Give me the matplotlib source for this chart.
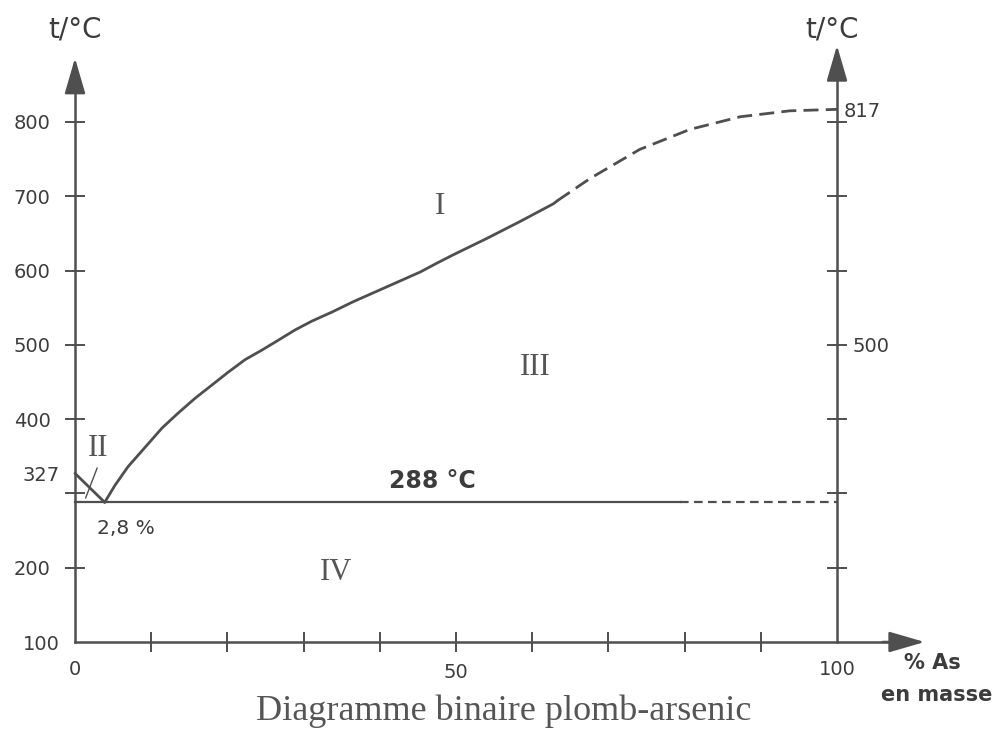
import matplotlib.pyplot as plt

LC = '#4f4f4f'   # couleur des traits
TC = '#3c3c3c'   # couleur du texte

# liquidus côté plomb : Pb pur (327 °C) -> eutectique
liq_pb_x = [0, 3.9]
liq_pb_t = [327, 288]
# liquidus côté arsenic, partie en trait plein
liq_as_x = [3.9, 5.25, 6.96, 9.19, 11.42, 13.52, 15.75, 17.98, 20.08, 22.31, 24.54,
            26.64, 28.87, 31.1, 33.7, 36.5, 40.9, 45.3, 47.5, 49.6, 54.0, 58.4, 62.8, 63.3]
liq_as_t = [288, 311, 336, 362, 388, 408, 428, 446, 463, 480, 493,
            506, 520, 532, 544, 558, 578, 598, 610, 621, 643, 666, 690, 694]
# partie extrapolée (tirets) jusqu'à As pur (817 °C)
liq_ext_x = [63.3, 67.6, 74.1, 80.7, 87.3, 93.8, 100]
liq_ext_t = [694, 724, 763, 790, 807, 815, 817]
# palier eutectique
eut_t = 288
eut_solid_x = [0, 79.4]
eut_dash_x = [79.4, 100]
# repère de la zone II
ptr_x = [2.9, 1.4]
ptr_t = [334, 294]

# graduations
x_ticks = [10, 20, 30, 40, 50, 60, 70, 80, 90]
x_labels = ['', '', '', '', '50', '', '', '', '']
x_extra = [0, 100]
x_extra_labels = ['0', '100']
y_ticks = [200, 300, 400, 500, 600, 700, 800]
y_labels = ['200', '', '400', '500', '600', '700', '800']
y_extra = [100, 327]
y_extra_labels = ['100', '327']
yr_labels = ['', '', '', '500', '', '', '']
yr_extra = [817]
yr_extra_labels = ['817']

# domaines
regions = ['I', 'II', 'III', 'IV']
region_x = [47.9, 3.0, 60.4, 34.3]
region_t = [686, 360, 470, 194]

# échelle : 7.62 px par %, 0.7429 px par °C (image 1005 x 735)
X0, X1 = -75 / 7.62, (1005 - 75) / 7.62
Y0, Y1 = 100 - 93 / 0.7429, 100 + 642 / 0.7429

fig = plt.figure(figsize=(10.05, 7.35), dpi=100)
ax = fig.add_axes([0, 0, 1, 1])
ax.set_xlim(X0, X1)
ax.set_ylim(Y0, Y1)

for s in ['top', 'right']:
    ax.spines[s].set_visible(False)
ax.spines['left'].set_position(('data', 0))
ax.spines['left'].set_bounds(100, 860)
ax.spines['bottom'].set_position(('data', 100))
ax.spines['bottom'].set_bounds(0, 108)
for s in ['left', 'bottom']:
    ax.spines[s].set_linewidth(1.8)
    ax.spines[s].set_color(LC)

ax.set_xticks(x_ticks, x_labels)
ax.set_xticks(x_extra, x_extra_labels, minor=True)
ax.set_yticks(y_ticks, y_labels)
ax.set_yticks(y_extra, y_extra_labels, minor=True)
ax.tick_params(which='major', direction='inout', length=14, width=1.4, color=LC,
               labelsize=14, labelcolor=TC)
ax.tick_params(which='minor', length=0, labelsize=14, labelcolor=TC)
ax.tick_params(axis='y', which='major', pad=10.5)
ax.tick_params(axis='y', which='minor', pad=11)
ax.tick_params(axis='x', which='major', pad=8)
ax.tick_params(axis='x', which='minor', pad=13)

# axe de droite (As pur)
sec = ax.secondary_yaxis((100 - X0) / (X1 - X0))
sec.spines['right'].set_bounds(100, 875)
sec.spines['right'].set_linewidth(1.8)
sec.spines['right'].set_color(LC)
sec.set_yticks(y_ticks, yr_labels)
sec.set_yticks(yr_extra, yr_extra_labels, minor=True)
sec.tick_params(which='major', direction='inout', length=14, width=1.4, color=LC,
                labelsize=14, labelcolor=TC, pad=4)
sec.tick_params(which='minor', length=0, labelsize=14, labelcolor=TC, pad=4.5)

# flèches des axes
arrow = dict(arrowstyle='-|>,head_length=1.1,head_width=0.32', color=LC, lw=1.8,
             mutation_scale=20, shrinkA=0, shrinkB=0)
ax.annotate('', xy=(0, 886), xytext=(0, 850), arrowprops=arrow)
ax.annotate('', xy=(100, 903), xytext=(100, 865), arrowprops=arrow)
ax.annotate('', xy=(111.5, 100), xytext=(106, 100), arrowprops=arrow)

# courbes
ax.plot(liq_pb_x, liq_pb_t, color=LC, lw=2.0, solid_capstyle='round')
ax.plot(liq_as_x, liq_as_t, color=LC, lw=2.0, solid_capstyle='round', solid_joinstyle='round')
ax.plot(liq_ext_x, liq_ext_t, color=LC, lw=2.0, linestyle=(0, (5.4, 2.6)))
ax.plot(eut_solid_x, [eut_t, eut_t], color=LC, lw=1.6)
ax.plot(eut_dash_x, [eut_t, eut_t], color=LC, lw=1.6, linestyle=(0, (3.9, 2.4)))
ax.plot(ptr_x, ptr_t, color=LC, lw=1.0)

# textes
for r, xr, tr in zip(regions, region_x, region_t):
    ax.text(xr, tr, r, family='Liberation Serif', fontsize=22, color='#555555',
            ha='center', va='center')
ax.text(46.9, 317, '288 °C', fontsize=17, fontweight='bold', color=TC, ha='center', va='center')
ax.text(6.7, 253, '2,8 %', fontsize=14.5, color=TC, ha='center', va='center')
ax.text(0, 924, 't/°C', fontsize=20, color=TC, ha='center', va='center')
ax.text(99.3, 924, 't/°C', fontsize=20, color=TC, ha='center', va='center')
ax.text(112.5, 71.7, '% As', fontsize=15, fontweight='bold', color=TC, ha='center', va='center')
ax.text(113.1, 28.7, 'en masse', fontsize=15, fontweight='bold', color=TC, ha='center', va='center')
ax.text(56.3, 7.1, 'Diagramme binaire plomb-arsenic', family='Liberation Serif',
        fontsize=26, color='#555555', ha='center', va='center')

fig.savefig('out.png', dpi=100)
